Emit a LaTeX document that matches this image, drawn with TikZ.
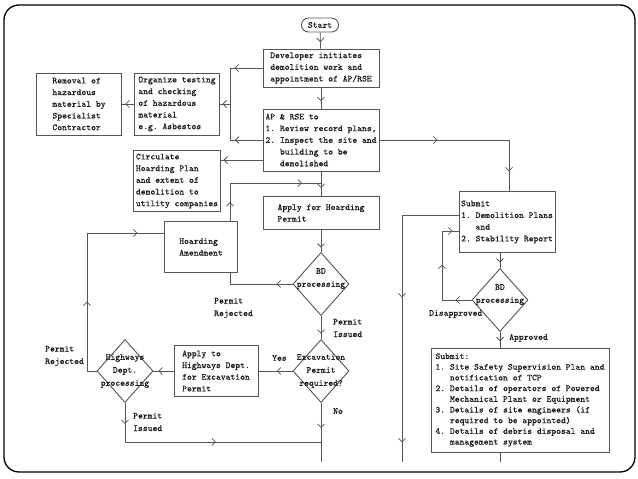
\documentclass[tikz,border=0pt]{standalone}
\usepackage{fontspec}
\setmonofont{Latin Modern Mono}[FakeBold=0.5]
\usetikzlibrary{arrows.meta,decorations.markings,shapes.geometric}
\definecolor{linec}{RGB}{85,85,85}
\definecolor{textc}{RGB}{30,30,30}
\newcommand{\zw}[1]{\makebox[0pt]{#1}}
\newcommand{\ind}{\hphantom{1.~}}
\begin{document}
\begin{tikzpicture}[x=1pt,y=-1pt,
    font=\ttfamily\fontsize{9.2}{11.7}\selectfont, text=textc,
    box/.style={draw=linec, line width=0.9pt, align=left, inner sep=2pt},
    dec/.style={draw=linec, line width=0.9pt, diamond, minimum width=56pt, minimum height=63pt,
        inner sep=0pt, align=center, font=\ttfamily\fontsize{9.2}{13}\selectfont},
    flow/.style={color=linec, line width=0.8pt, decoration=markings, postaction=decorate},
    tipat/.style={decoration={mark=at position #1 with {\arrow{Straight Barb[length=3.5pt,width=7pt]}}}},
    lbl/.style={align=left, inner sep=0pt, anchor=west, font=\ttfamily\fontsize{9.2}{12.5}\selectfont}]
    \useasboundingbox (0,0) rectangle (638,479);
    \draw[line width=1.3pt, rounded corners=15pt] (4,5) rectangle (635,472);
    % boxes
    \node[draw=linec, line width=0.9pt, rounded corners=7pt, minimum width=37pt, minimum height=14pt, inner sep=0pt] (start) at (320,25) {Start};
    \node[box, minimum width=116pt, minimum height=38pt] (dev) at (321,68) {Developer initiates\\demolition work and\\appointment of AP/RSE};
    \node[box, minimum width=116pt, minimum height=62pt] (ap) at (321,140) {AP \& RSE to\\1. Review record plans,\\2. Inspect the site and\\\ind building to be\\\ind demolished};
    \node[box, minimum width=85pt, minimum height=62pt] (org) at (177,104) {Organize testing\\and checking\\of hazardous\\material\\e.g. Asbestos};
    \node[box, minimum width=85pt, minimum height=62pt] (rem) at (79,104) {Removal of\\hazardous\\material by\\Specialist\\Contractor};
    \node[box, minimum width=85pt, minimum height=61pt] (circ) at (177,181) {Circulate\\Hoarding Plan\\and extent of\\demolition to\\utility companies};
    \node[box, minimum width=116pt, minimum height=33pt] (apply) at (321,213) {Apply for Hoarding\\Permit};
    \node[box, minimum width=73pt, minimum height=51pt] (amend) at (201,247) {Hoarding\\Amendment};
    \node[dec] (bd1) at (321,284) {\zw{BD}\\\zw{processing}\\\mbox{}};
    \node[dec] (exc) at (321,371) {\zw{Excavation}\\\zw{Permit}\\\zw{required?}};
    \node[box, minimum width=84pt, minimum height=51pt] (hwy) at (216,371) {Apply to\\Highways Dept.\\for Excavation\\Permit};
    \node[dec] (hd) at (125,371) {\zw{Highways}\\\zw{Dept.}\\\zw{processing}};
    \node[box, minimum width=96pt, minimum height=61pt] (sub1) at (507,222) {Submit\\1. Demolition Plans\\\ind and\\2. Stability Report};
    \node[dec] (bd2) at (500,300) {\zw{BD}\\\zw{processing}\\\mbox{}};
    \node[box, minimum width=178pt, minimum height=104pt, font=\ttfamily\fontsize{9.2}{10.7}\selectfont] (sub2) at (520,400) {Submit:\\1. Site Safety Supervision Plan and\\\ind notification of TCP\\2. Details of operators of Powered\\\ind Mechanical Plant or Equipment\\3. Details of site engineers (if\\\ind required to be appointed)\\4. Details of debris disposal and\\\ind management system};
    % labels
    \node[lbl] (rej1) at (214,308) {Permit\\Rejected};
    \node[lbl] (iss1) at (333,328) {Permit\\Issued};
    \node[lbl] (yes) at (272,358) {Yes};
    \node[lbl] (no) at (333,411) {No};
    \node[lbl] (rej2) at (45,356) {Permit\\Rejected};
    \node[lbl] (iss2) at (133,422) {Permit\\Issued};
    \node[lbl] (disap) at (429,314) {Disapproved};
    \node[lbl] (appr) at (509,338) {Approved};
    % connectors
    \coordinate (b1) at (230,68);
    \coordinate (b2) at (230,140);
    \coordinate (rt) at (509,140);
    \coordinate (h1) at (230,183);
    \coordinate (h2) at (321,183);
    \coordinate (a1) at ([yshift=14pt]amend.west);
    \coordinate (l1) at (87,371);
    \coordinate (l2) at (125,442);
    \coordinate (l3) at (321,442);
    \coordinate (e1) at (321,462);
    \coordinate (r1) at (402,215);
    \coordinate (r2) at (402,462);
    \coordinate (d1) at (442,300);
    \coordinate (d2) at (442,231);
    \coordinate (s1) at (500,462);
    \draw[flow, tipat=0.6] (start) -- (dev);
    \draw[flow, tipat=0.65] (dev) -- (ap);
    \draw[flow, tipat=28pt] (dev.west) -- (b1) -- (b2);
    \draw[flow, tipat=0.85] (ap.west) -- (b2);
    \draw[flow, tipat=0.75] (b1 |- org.east) -- (org.east);
    \draw[flow, tipat=0.93] ([yshift=-20pt]ap.west) -- ([yshift=-20pt]ap.west -| circ.east);
    \draw[flow, tipat=0.72] (org) -- (rem);
    \draw[flow, tipat=58pt, tipat=161pt] (ap.east) -- (rt) -- (rt |- sub1.north);
    \draw[flow, tipat=0.67] (ap) -- (apply);
    \draw[flow, tipat=19pt, tipat=110pt] (h1 |- amend.north) -- (h1) -- (h2);
    \draw[flow, tipat=0.8] (apply) -- (bd1);
    \draw[flow, tipat=16pt] (bd1.west) -- (bd1.west -| h1) -- (h1 |- amend.south);
    \draw[flow, tipat=0.77] (bd1) -- (exc);
    \draw[flow, tipat=0.46] (exc) -- (hwy);
    \draw[flow, tipat=0.76] (hwy) -- (hd);
    \draw[flow, tipat=79pt, tipat=198pt] (hd.west) -- (l1) -- (l1 |- a1) -- (a1);
    \draw[flow, tipat=21pt, tipat=130pt] (hd.south) -- (l2) -- (l3);
    \draw[flow, tipat=25pt] (exc.south) -- (e1);
    \draw[flow, tipat=139pt, tipat=284pt] (sub1.west |- r1) -- (r1) -- (r2);
    \draw[flow, tipat=0.64] (bd2.north |- sub1.south) -- (bd2.north);
    \draw[flow, tipat=16pt, tipat=65pt, tipat=109pt] (bd2.west) -- (d1) -- (d2) -- (d2 -| sub1.west);
    \draw[flow, tipat=0.6] (bd2.south) -- (bd2.south |- sub2.north);
    \draw[flow] (sub2.south -| s1) -- (s1);
\end{tikzpicture}
\end{document}
